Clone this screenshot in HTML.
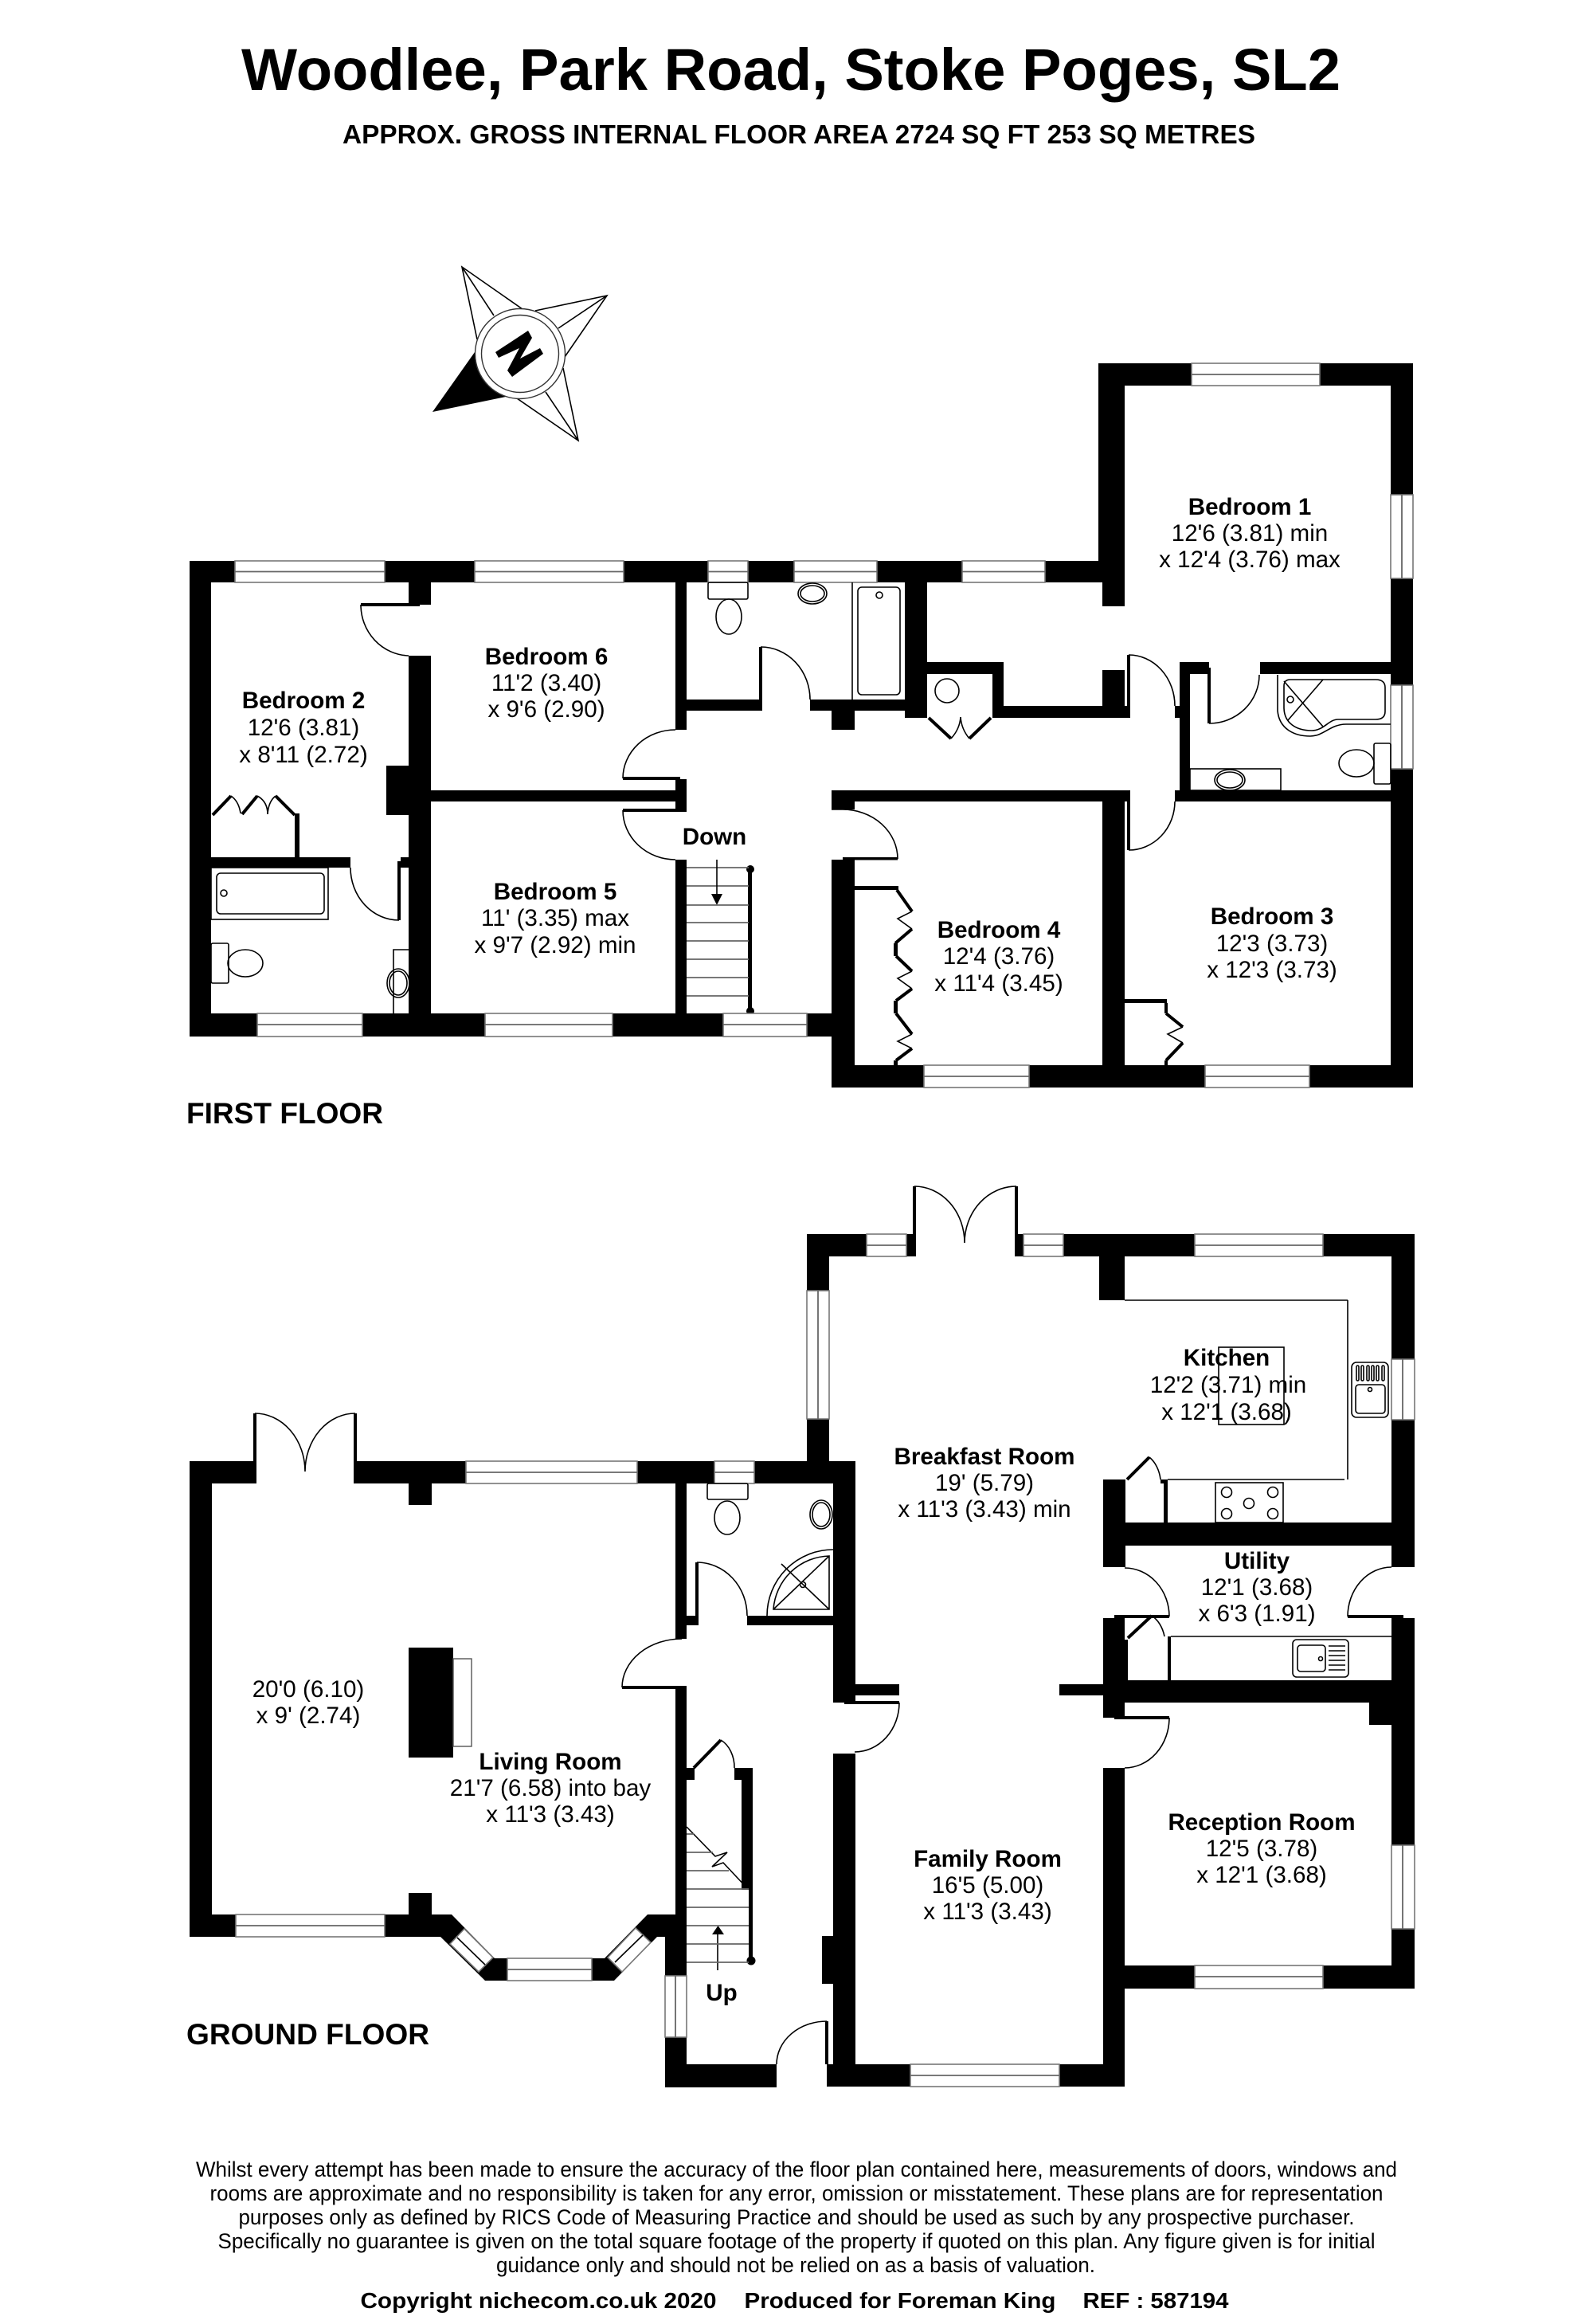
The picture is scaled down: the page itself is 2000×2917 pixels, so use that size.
<!DOCTYPE html>
<html><head><meta charset="utf-8"><title>Woodlee, Park Road, Stoke Poges, SL2</title>
<style>
html,body{margin:0;padding:0;background:#fff}
svg{display:block}
text{font-family:"Liberation Sans",Arial,sans-serif;fill:#000;text-anchor:middle}
.b{font-weight:bold;font-size:29.6px}
.r{font-size:29.6px}
.f{font-size:26.5px}
.c{font-weight:bold;font-size:27.5px}
.fl{font-weight:bold;font-size:37px;text-anchor:start}
.t{fill:none;stroke:#000;stroke-width:1.6}
.k{fill:none;stroke:#000;stroke-width:4}
.g{fill:none;stroke:#666;stroke-width:1.8}
.w{fill:#fff;stroke:#777;stroke-width:1.6}
</style></head><body>
<svg xmlns="http://www.w3.org/2000/svg" width="2000" height="2917" viewBox="0 0 2000 2917">
<rect width="2000" height="2917" fill="#fff"/>

<text x="993" y="113" font-size="74" font-weight="bold" textLength="1380" lengthAdjust="spacingAndGlyphs">Woodlee, Park Road, Stoke Poges, SL2</text>
<text x="1003" y="180" font-size="33" font-weight="bold" textLength="1146" lengthAdjust="spacingAndGlyphs">APPROX. GROSS INTERNAL FLOOR AREA 2724 SQ FT 253 SQ METRES</text>

<!-- compass -->
<g>
<path class="t" d="M599 426L580 335L656 388M620 396L580 335M672 390L762 371L709 448M701 412L762 371M707 462L726 553L649 500M685 492L726 553"/>
<path d="M543 517L596 442A57 57 0 0 0 635 498Z" fill="#000"/>
<circle cx="653" cy="444" r="56.5" fill="#fff" stroke="#333" stroke-width="1.4"/>
<circle cx="653" cy="444" r="48.5" fill="#fff" stroke="#333" stroke-width="1.4"/>
<polygon points="622,442 663,415 668,424 653,450 678,437 682,444 643,473 637,465 652,437 626,449" fill="#000"/>
</g>

<!-- FIRST FLOOR walls -->
<g fill="#000">
<rect x="238" y="704" width="1146" height="27"/>
<rect x="238" y="704" width="27" height="597"/>
<rect x="238" y="1272" width="806" height="29"/>
<rect x="1044" y="1337" width="730" height="28"/>
<rect x="1044" y="1079" width="29" height="286"/>
<rect x="1044" y="992" width="29" height="24"/>
<rect x="1379" y="456" width="395" height="28"/>
<rect x="1379" y="456" width="33" height="275"/>
<rect x="1384" y="731" width="28" height="30"/>
<rect x="1746" y="456" width="28" height="909"/>
<rect x="513" y="731" width="28" height="28"/>
<rect x="513" y="823" width="28" height="449"/>
<rect x="485" y="961" width="28" height="62"/>
<rect x="541" y="992" width="307" height="14"/>
<rect x="848" y="731" width="14" height="185"/>
<rect x="848" y="978" width="14" height="41"/>
<rect x="848" y="1079" width="14" height="193"/>
<rect x="782" y="975" width="72" height="4"/>
<rect x="782" y="1015" width="72" height="4"/>
<rect x="453" y="757" width="74" height="4"/>
<rect x="265" y="1076" width="175" height="13"/>
<rect x="503" y="1076" width="10" height="13"/>
<rect x="499" y="1081" width="4" height="74"/>
<rect x="370" y="1021" width="6" height="55"/>
<rect x="862" y="878" width="93" height="14"/>
<rect x="953" y="812" width="4" height="80"/>
<rect x="1017" y="878" width="119" height="14"/>
<rect x="1136" y="731" width="28" height="170"/>
<rect x="1044" y="892" width="29" height="24"/>
<rect x="1164" y="831" width="96" height="15"/>
<rect x="1246" y="846" width="14" height="55"/>
<rect x="1260" y="886" width="157" height="15"/>
<rect x="1384" y="841" width="28" height="45"/>
<rect x="1415" y="822" width="4" height="79"/>
<rect x="1415" y="992" width="4" height="75"/>
<rect x="1475" y="886" width="6" height="15"/>
<rect x="1481" y="831" width="13" height="175"/>
<rect x="1481" y="831" width="37" height="15"/>
<rect x="1516" y="838" width="4" height="70"/>
<rect x="1582" y="831" width="164" height="15"/>
<rect x="1044" y="992" width="373" height="14"/>
<rect x="1475" y="992" width="271" height="14"/>
<rect x="1384" y="1006" width="28" height="331"/>
<rect x="1058" y="1076" width="69" height="3.5"/>
<rect x="1073" y="1112" width="55" height="5"/>
<rect x="1412" y="1254" width="53" height="5"/>
<rect x="1122" y="1184" width="5" height="16"/>
<rect x="1122" y="1256" width="5" height="16"/>
<rect x="1122" y="1331" width="5" height="6"/>
<rect x="1462" y="1259" width="4" height="13"/>
<rect x="1462" y="1331" width="4" height="6"/>
<rect x="939" y="1091" width="5" height="178"/>
<circle cx="942" cy="1091" r="5"/><circle cx="942" cy="1269" r="5"/>
<polygon points="893,1122 907,1122 900,1136"/>
</g>
<!-- first floor windows -->
<g>
<rect class="w" x="295" y="704" width="188" height="27"/><path class="g" d="M295 717.500H483"/>
<rect class="w" x="596" y="704" width="187" height="27"/><path class="g" d="M596 717.500H783"/>
<rect class="w" x="889" y="704" width="50" height="27"/><path class="g" d="M889 717.500H939"/>
<rect class="w" x="997" y="704" width="104" height="27"/><path class="g" d="M997 717.500H1101"/>
<rect class="w" x="1208" y="704" width="104" height="27"/><path class="g" d="M1208 717.500H1312"/>
<rect class="w" x="1496" y="456" width="161" height="28"/><path class="g" d="M1496 470H1657"/>
<rect class="w" x="1746" y="621" width="28" height="105"/><path class="g" d="M1760 621V726"/>
<rect class="w" x="1746" y="860" width="28" height="105"/><path class="g" d="M1760 860V965"/>
<rect class="w" x="323" y="1272" width="132" height="29"/><path class="g" d="M323 1286H455"/>
<rect class="w" x="609" y="1272" width="160" height="29"/><path class="g" d="M609 1286H769"/>
<rect class="w" x="908" y="1272" width="105" height="29"/><path class="g" d="M908 1286H1013"/>
<rect class="w" x="1160" y="1337" width="132" height="28"/><path class="g" d="M1160 1351H1292"/>
<rect class="w" x="1513" y="1337" width="131" height="28"/><path class="g" d="M1513 1351H1644"/>
</g>
<!-- first floor door arcs + fittings -->
<path class="t" d="M453 759A62 64 0 0 0 513 823M782 977A66 61 0 0 1 848 916M782 1017A66 62 0 0 0 848 1079M440 1089A61 66 0 0 0 501 1155M955 812A62 66 0 0 1 1017 878M1044 1016H1058A69 62 0 0 1 1127 1078M1417 822A58 64 0 0 1 1475 886M1475 1006A58 61 0 0 1 1417 1067M1518 908A63 61 0 0 0 1581 847"/>
<g class="t">
<rect x="265" y="1089" width="147" height="65" fill="none"/>
<rect x="272" y="1096" width="135" height="51" rx="5" fill="none"/>
<circle cx="281" cy="1121" r="4" fill="none"/>
<rect x="265" y="1184" width="22" height="50" rx="2" fill="none"/>
<ellipse cx="308" cy="1209" rx="22" ry="17" fill="none"/>
<path fill="none" d="M494 1272V1192H513"/>
<ellipse cx="500" cy="1234" rx="14" ry="18" fill="none"/>
<ellipse cx="500" cy="1234" rx="11" ry="15" fill="none"/>
<rect x="889" y="731" width="50" height="21" rx="2" fill="none"/>
<ellipse cx="915" cy="774" rx="16" ry="22" fill="none"/>
<ellipse cx="1020" cy="745" rx="18" ry="13" fill="none"/>
<ellipse cx="1020" cy="745" rx="15" ry="10" fill="none"/>
<path fill="none" d="M1070 731V878"/>
<rect x="1077" y="737" width="53" height="135" rx="5" fill="none"/>
<circle cx="1104" cy="747" r="4" fill="none"/>
<circle cx="1189" cy="867" r="15" fill="none"/>
<path fill="none" d="M1194 927Q1205 915 1206 900Q1207 915 1217 927"/>
<path fill="none" d="M290 999Q300 1006 302 1021M323 999Q336 1006 336 1022Q337 1006 346 999"/>
<path fill="none" d="M1145 1144L1127 1153L1145 1166M1145 1219L1127 1228L1145 1241M1145 1298L1127 1307L1145 1316M1485 1289L1466 1298L1485 1309"/>
<path fill="none" d="M1604 847V892C1606 915 1625 924 1645 924C1662 924 1670 909 1690 909H1746"/>
<path fill="none" d="M1620 853H1727Q1739 853 1739 863V893Q1739 903 1727 903H1680C1668 903 1662 917 1647 917C1628 917 1612 908 1612 888V861Q1612 853 1620 853Z"/>
<path fill="none" d="M1612 855L1661 912M1661 853L1617 904"/>
<circle cx="1620" cy="878" r="4" fill="none"/>
<rect x="1725" y="933" width="21" height="51" rx="2" fill="none"/>
<ellipse cx="1703" cy="958" rx="22" ry="17" fill="none"/>
<rect x="1494" y="965" width="114" height="27" fill="none"/>
<ellipse cx="1544" cy="979" rx="19" ry="13" fill="none"/>
<ellipse cx="1544" cy="979" rx="16" ry="10" fill="none"/>
</g>
<path class="k" d="M267 1023L290 999M304 1022L323 999M346 999L370 1023M1166 901L1194 927M1217 927L1244 901M1126 1117L1145 1144M1145 1166L1124 1184M1125 1200L1145 1219M1145 1241L1125 1256M1125 1272L1145 1298M1145 1316L1125 1331M1464 1272L1485 1289M1485 1309L1464 1331"/>
<path class="g" d="M862 1089H940M862 1112H940M862 1136H940M862 1158H940M862 1181H940M862 1204H940M862 1227H940M862 1250H940"/>
<path class="t" d="M900 1079V1124"/>

<!-- GROUND FLOOR walls -->
<g fill="#000">
<rect x="238" y="1834" width="81" height="28"/>
<rect x="446" y="1834" width="628" height="28"/>
<rect x="238" y="1834" width="28" height="597"/>
<rect x="238" y="2403" width="329" height="28"/>
<polygon points="553,2403 567,2403 621,2458 759,2458 813,2403 848,2403 848,2431 825,2431 771,2486 609,2486 553,2431"/>
<rect x="513" y="1862" width="29" height="27"/>
<rect x="513" y="2376" width="29" height="27"/>
<rect x="513" y="2068" width="56" height="138"/>
<rect x="848" y="1862" width="14" height="195"/>
<rect x="848" y="2120" width="14" height="283"/>
<rect x="835" y="2403" width="27" height="217"/>
<rect x="835" y="2591" width="140" height="29"/>
<rect x="781" y="2116" width="81" height="4"/>
<rect x="1046" y="1834" width="28" height="303"/>
<rect x="1046" y="2201" width="28" height="418"/>
<rect x="1013" y="1834" width="61" height="27"/>
<rect x="1032" y="2430" width="14" height="60"/>
<rect x="1036" y="2537" width="4" height="54"/>
<rect x="1038" y="2591" width="374" height="28"/>
<rect x="938" y="2028" width="108" height="12"/>
<rect x="862" y="2028" width="13" height="12"/>
<rect x="873" y="1961" width="4" height="79"/>
<rect x="1013" y="1549" width="28" height="285"/>
<rect x="1013" y="1549" width="135" height="28"/>
<rect x="1276" y="1549" width="500" height="28"/>
<rect x="1747" y="1549" width="29" height="418"/>
<rect x="1747" y="2031" width="29" height="465"/>
<rect x="1380" y="1577" width="32" height="55"/>
<rect x="1385" y="1857" width="28" height="110"/>
<rect x="1385" y="2031" width="27" height="125"/>
<rect x="1385" y="2219" width="27" height="400"/>
<rect x="1385" y="1911" width="391" height="29"/>
<rect x="1385" y="2109" width="391" height="28"/>
<rect x="1719" y="2137" width="28" height="28"/>
<rect x="1412" y="2467" width="364" height="29"/>
<rect x="1330" y="2114" width="55" height="14"/>
<rect x="1074" y="2114" width="55" height="14"/>
<rect x="1060" y="2135" width="69" height="4"/>
<rect x="1399" y="2027" width="69" height="4"/>
<rect x="1692" y="2027" width="70" height="4"/>
<rect x="1399" y="2154" width="69" height="4"/>
<rect x="318" y="1774" width="4" height="88"/>
<rect x="444" y="1774" width="4" height="88"/>
<rect x="1146" y="1489" width="4" height="88"/>
<rect x="1274" y="1489" width="4" height="88"/>
<rect x="1138" y="1549" width="10" height="28"/>
<rect x="1276" y="1549" width="9" height="28"/>
<rect x="1457" y="1857" width="9" height="5"/>
<rect x="1461" y="1857" width="5" height="54"/>
<rect x="1466" y="2054" width="4" height="55"/>
<rect x="1412" y="2058" width="4" height="51"/>
<rect x="862" y="2219" width="10" height="15"/>
<rect x="922" y="2219" width="23" height="15"/>
<rect x="931" y="2234" width="14" height="138"/>
<rect x="940" y="2372" width="5" height="89"/>
<circle cx="943" cy="2461" r="5.500"/>
<polygon points="894,2428 909,2428 901.500,2417"/>
</g>
<!-- ground floor windows -->
<g>
<rect class="w" x="585" y="1834" width="215" height="28"/><path class="g" d="M585 1848H800"/>
<rect class="w" x="897" y="1834" width="50" height="28"/><path class="g" d="M897 1848H947"/>
<rect class="w" x="296" y="2403" width="187" height="28"/><path class="g" d="M296 2417H483"/>
<rect class="w" x="637" y="2458" width="106" height="28"/><path class="g" d="M637 2472H743"/>
<polygon class="w" points="583,2421 619,2457 601,2475 565,2440"/><path class="t" d="M574 2432L609 2466"/>
<polygon class="w" points="798,2420 763,2457 781,2475 817,2438"/><path class="t" d="M807 2429L772 2463"/>
<rect class="w" x="835" y="2480" width="27" height="77"/><path class="g" d="M848 2480V2557"/>
<rect class="w" x="1013" y="1620" width="28" height="161"/><path class="g" d="M1027 1620V1781"/>
<rect class="w" x="1088" y="1549" width="50" height="28"/><path class="g" d="M1088 1563H1138"/>
<rect class="w" x="1285" y="1549" width="50" height="28"/><path class="g" d="M1285 1563H1335"/>
<rect class="w" x="1500" y="1549" width="161" height="28"/><path class="g" d="M1500 1563H1661"/>
<rect class="w" x="1747" y="1706" width="29" height="76"/><path class="g" d="M1761 1706V1782"/>
<rect class="w" x="1747" y="2316" width="29" height="105"/><path class="g" d="M1761 2316V2421"/>
<rect class="w" x="1500" y="2467" width="161" height="29"/><path class="g" d="M1500 2481H1661"/>
<rect class="w" x="1143" y="2591" width="187" height="28"/><path class="g" d="M1143 2605H1330"/>
</g>
<rect x="569" y="2082" width="23" height="110" fill="#fff" stroke="#555" stroke-width="1.4"/>
<!-- ground floor arcs and fittings -->
<path class="t" d="M320 1774A63 73 0 0 1 383 1847M446 1774A63 73 0 0 0 383 1847M1148 1489A63 71 0 0 1 1211 1560M1276 1489A65 71 0 0 0 1211 1560M781 2118A75 61 0 0 1 856 2057M875 1961A63 67 0 0 1 938 2028M975 2591A63 54 0 0 1 1038 2537M1129 2137A56 62 0 0 1 1073 2199M1412 1968A56 61 0 0 1 1468 2029M1692 2029A55 62 0 0 1 1747 1967M1468 2156A56 63 0 0 1 1412 2219"/>
<g class="t">
<rect x="888" y="1862" width="51" height="20" rx="2" fill="none"/>
<ellipse cx="913" cy="1905" rx="16" ry="21" fill="none"/>
<ellipse cx="1031" cy="1901" rx="14" ry="18" fill="none"/>
<ellipse cx="1031" cy="1901" rx="11" ry="15" fill="none"/>
<path fill="none" d="M1046 1945A83 83 0 0 0 963 2028M1041 1953A72 72 0 0 0 971 2020H1041ZM1041 1953L971 2020M981 1963L1041 2020"/>
<circle cx="1008" cy="1989" r="3.500" fill="none"/>
<path fill="none" d="M922 2219A30 38 0 0 0 905 2184"/>
<path fill="none" d="M862 2293L898 2330L913 2325L894 2343L908 2338L939 2371"/>
<path fill="none" d="M901 2473V2428"/>
<path fill="none" d="M1412 1632H1692M1692 1632V1857M1466 1857H1688"/>
<rect x="1530" y="1691" width="82" height="97" fill="none"/>
<rect x="1526" y="1861" width="85" height="50" fill="none"/>
<circle cx="1540" cy="1873" r="6.500" fill="none"/><circle cx="1598" cy="1873" r="6.500" fill="none"/><circle cx="1568" cy="1887" r="6.500" fill="none"/><circle cx="1540" cy="1900" r="6.500" fill="none"/><circle cx="1598" cy="1900" r="6.500" fill="none"/>
<rect x="1697" y="1710" width="46" height="69" rx="6" fill="none"/>
<rect x="1702" y="1738" width="37" height="36" rx="4" fill="none"/>
<circle cx="1720" cy="1744" r="2.500" fill="none"/>
<rect x="1703" y="1714" width="3" height="19" rx="1.500" fill="none"/><rect x="1709" y="1714" width="3" height="19" rx="1.500" fill="none"/><rect x="1716" y="1714" width="3" height="19" rx="1.500" fill="none"/><rect x="1722" y="1714" width="3" height="19" rx="1.500" fill="none"/><rect x="1728" y="1714" width="3" height="19" rx="1.500" fill="none"/><rect x="1735" y="1714" width="3" height="19" rx="1.500" fill="none"/>
<path fill="none" d="M1457 1857A30 40 0 0 0 1443 1829M1462 2054A30 40 0 0 0 1446 2028M1470 2054H1747"/>
<rect x="1623" y="2058" width="70" height="47" rx="5" fill="none"/>
<rect x="1629" y="2065" width="35" height="33" rx="4" fill="none"/>
<circle cx="1658" cy="2082" r="2.500" fill="none"/>
<path fill="none" d="M1668 2066H1689M1668 2072H1689M1668 2078H1689M1668 2084H1689M1668 2090H1689M1668 2096H1689"/>
</g>
<path class="k" d="M871 2219L905 2184M1415 1857L1443 1829M1416 2056L1446 2028"/>
<path class="g" d="M862 2302H871M862 2325H895M862 2348H915M862 2371H940M862 2394H940M862 2417H940M862 2440H940M862 2463H940"/>

<!-- labels -->
<text class="b" x="686" y="834">Bedroom 6</text><text class="r" x="686" y="867">11'2 (3.40)</text><text class="r" x="686" y="900">x 9'6 (2.90)</text>
<text class="b" x="381" y="889">Bedroom 2</text><text class="r" x="381" y="923">12'6 (3.81)</text><text class="r" x="381" y="957">x 8'11 (2.72)</text>
<text class="b" x="697" y="1129">Bedroom 5</text><text class="r" x="697" y="1162">11' (3.35) max</text><text class="r" x="697" y="1196">x 9'7 (2.92) min</text>
<text class="b" x="897" y="1060">Down</text>
<text class="b" x="1569" y="646">Bedroom 1</text><text class="r" x="1569" y="679">12'6 (3.81) min</text><text class="r" x="1569" y="712">x 12'4 (3.76) max</text>
<text class="b" x="1254" y="1177">Bedroom 4</text><text class="r" x="1254" y="1210">12'4 (3.76)</text><text class="r" x="1254" y="1244">x 11'4 (3.45)</text>
<text class="b" x="1597" y="1160">Bedroom 3</text><text class="r" x="1597" y="1194">12'3 (3.73)</text><text class="r" x="1597" y="1227">x 12'3 (3.73)</text>
<text class="fl" x="234" y="1410" textLength="247" lengthAdjust="spacingAndGlyphs">FIRST FLOOR</text>

<text class="r" x="387" y="2130">20'0 (6.10)</text><text class="r" x="387" y="2163">x 9' (2.74)</text>
<text class="b" x="691" y="2221">Living Room</text><text class="r" x="691" y="2254">21'7 (6.58) into bay</text><text class="r" x="691" y="2287">x 11'3 (3.43)</text>
<text class="b" x="906" y="2511">Up</text>
<text class="fl" x="234" y="2566" textLength="305" lengthAdjust="spacingAndGlyphs">GROUND FLOOR</text>
<text class="b" x="1540" y="1714">Kitchen</text><text class="r" x="1542" y="1748">12'2 (3.71) min</text><text class="r" x="1540" y="1782">x 12'1 (3.68)</text>
<text class="b" x="1236" y="1838">Breakfast Room</text><text class="r" x="1236" y="1871">19' (5.79)</text><text class="r" x="1236" y="1904">x 11'3 (3.43) min</text>
<text class="b" x="1578" y="1969">Utility</text><text class="r" x="1578" y="2002">12'1 (3.68)</text><text class="r" x="1578" y="2035">x 6'3 (1.91)</text>
<text class="b" x="1584" y="2297">Reception Room</text><text class="r" x="1584" y="2330">12'5 (3.78)</text><text class="r" x="1584" y="2363">x 12'1 (3.68)</text>
<text class="b" x="1240" y="2343">Family Room</text><text class="r" x="1240" y="2376">16'5 (5.00)</text><text class="r" x="1240" y="2409">x 11'3 (3.43)</text>

<!-- footer -->
<text class="f" x="1000" y="2732" textLength="1508" lengthAdjust="spacingAndGlyphs">Whilst every attempt has been made to ensure the accuracy of the floor plan contained here, measurements of doors, windows and</text>
<text class="f" x="1000" y="2762" textLength="1473" lengthAdjust="spacingAndGlyphs">rooms are approximate and no responsibility is taken for any error, omission or misstatement. These plans are for representation</text>
<text class="f" x="1000" y="2792" textLength="1401" lengthAdjust="spacingAndGlyphs">purposes only as defined by RICS Code of Measuring Practice and should be used as such by any prospective purchaser.</text>
<text class="f" x="1000" y="2822" textLength="1453" lengthAdjust="spacingAndGlyphs">Specifically no guarantee is given on the total square footage of the property if quoted on this plan. Any figure given is for initial</text>
<text class="f" x="999" y="2852" textLength="752" lengthAdjust="spacingAndGlyphs">guidance only and should not be relied on as a basis of valuation.</text>
<text class="c" x="676" y="2897" textLength="447" lengthAdjust="spacingAndGlyphs">Copyright nichecom.co.uk 2020</text>
<text class="c" x="1130" y="2897" textLength="391" lengthAdjust="spacingAndGlyphs">Produced for Foreman King</text>
<text class="c" x="1451" y="2897" textLength="183" lengthAdjust="spacingAndGlyphs">REF : 587194</text>
</svg>
</body></html>
